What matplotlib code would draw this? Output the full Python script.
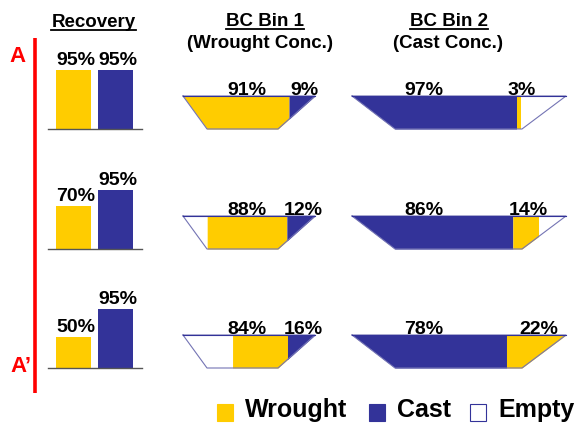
import numpy as np
import matplotlib
matplotlib.use('Agg')
import matplotlib.pyplot as plt
from matplotlib.patches import Rectangle

plt.rcParams['font.family'] = ['Liberation Sans', 'DejaVu Sans']

# Recovery (%) for each row, wrought / cast
recovery_wrought = [95, 70, 50]
recovery_cast = [95, 95, 95]

# BC Bin 1 (wrought concentrate): content split (%) and how full the bin is
bin1_wrought = [91, 88, 84]
bin1_cast = [9, 12, 16]
bin1_fill = [1.0, 0.88, 0.63]

# BC Bin 2 (cast concentrate)
bin2_cast = [97, 86, 78]
bin2_wrought = [3, 14, 22]
bin2_fill = [0.865, 0.95, 1.0]

legend_labels = ['Wrought', 'Cast', 'Empty']

YELLOW = '#FFCC00'
BLUE = '#333399'
EDGE = '#7474b4'

W, H = 575, 423
fig = plt.figure(figsize=(W / 100, H / 100), dpi=100)
ax = fig.add_axes([0, 0, 1, 1])
ax.set_xlim(0, W)
ax.set_ylim(H, 0)
ax.axis('off')

row_base = [129, 249, 368]
bin_h = 33
px_per_pct = 0.62

# bin shapes: top-left, top-right, bottom-left, bottom-right
bin1_shape = (183, 315, 207, 278)
bin2_shape = (352, 566, 395, 522)


def depth(x, shape):
    tl, tr, bl, br = shape
    return bin_h * np.clip(np.minimum((x - tl) / (bl - tl), (tr - x) / (tr - br)), 0, 1)


def draw_bin(shape, base, parts, colors):
    # parts = area fractions from left to right
    tl, tr, bl, br = shape
    top = base - bin_h
    xs = np.union1d(np.linspace(tl, tr, 3000), [bl, br])
    d = depth(xs, shape)
    cum = np.concatenate([[0], np.cumsum((d[1:] + d[:-1]) / 2 * np.diff(xs))])
    cum /= cum[-1]
    edges = np.interp(np.cumsum([0] + parts), cum, xs)
    for x0, x1, c in zip(edges[:-1], edges[1:], colors):
        if x1 - x0 < 0.2:
            continue
        seg = np.union1d(np.linspace(x0, x1, 300), [b for b in (bl, br) if x0 < b < x1])
        ax.fill_between(seg, top, top + depth(seg, shape), color=c, lw=0)
    ax.plot([tl, tr, br, bl, tl], [top, top, base, base, top], color=EDGE, lw=0.8)
    ax.plot([tl, tr], [top, top], color=BLUE, lw=0.8)
    return edges


lab = dict(fontsize=14, fontweight='bold', ha='center', va='baseline')

for i, base in enumerate(row_base):
    # recovery bars
    for xc, v, c in [(73.5, recovery_wrought[i], YELLOW), (115.5, recovery_cast[i], BLUE)]:
        ax.bar(xc, -v * px_per_pct, bottom=base, width=35, color=c, lw=0)
        ax.text(xc + 2, base - v * px_per_pct - 5, f'{v}%', **lab)
    ax.plot([48, 142], [base, base], color='#555555', lw=1)

    # bin 1 fills from the right: empty, wrought, cast
    f = bin1_fill[i]
    e = draw_bin(bin1_shape, base,
                 [1 - f, f * bin1_wrought[i] / 100, f * bin1_cast[i] / 100],
                 ['white', YELLOW, BLUE])
    top = base - bin_h
    ax.text(247, top - 1, f'{bin1_wrought[i]}%', **lab)
    ax.text((e[2] + e[3]) / 2 + 2, top - 1, f'{bin1_cast[i]}%', **lab)

    # bin 2 fills from the left: cast, wrought, empty
    f = bin2_fill[i]
    e = draw_bin(bin2_shape, base,
                 [f * bin2_cast[i] / 100, f * bin2_wrought[i] / 100, 1 - f],
                 [BLUE, YELLOW, 'white'])
    ax.text(424, top - 1, f'{bin2_cast[i]}%', **lab)
    ax.text((e[1] + e[2]) / 2 + 3, top - 1, f'{bin2_wrought[i]}%', **lab)

# A - A' line
ax.plot([35, 35], [38, 393], color='red', lw=2.6, solid_capstyle='butt')
ax.text(17, 56, 'A', color='red', fontsize=16, fontweight='bold', ha='center', va='center')
ax.text(21, 367, 'A\u2019', color='red', fontsize=16, fontweight='bold', ha='center', va='center')

# headers (underlined)
hdr = dict(fontsize=13.5, fontweight='bold', ha='center', va='baseline')
underlined = [ax.text(93.5, 27, 'Recovery', **hdr),
              ax.text(265, 26, 'BC Bin 1', **hdr),
              ax.text(449, 26, 'BC Bin 2', **hdr)]
ax.text(260, 48, '(Wrought Conc.)', **hdr)
ax.text(448, 48, '(Cast Conc.)', **hdr)

fig.canvas.draw()
r = fig.canvas.get_renderer()
for t in underlined:
    bb = t.get_window_extent(r)
    y = t.get_position()[1] + 3
    ax.plot([bb.x0, bb.x1], [y, y], color='black', lw=1.3)

# legend
leg = [(217, YELLOW, legend_labels[0]), (369, BLUE, legend_labels[1]), (470, 'white', legend_labels[2])]
for x, c, name in leg:
    ec = BLUE if c == 'white' else c
    ax.add_patch(Rectangle((x, 404), 16, 17, facecolor=c, edgecolor=ec, lw=0.8))
    ax.text(x + 28, 417, name, fontsize=18, fontweight='bold', va='baseline', ha='left')

fig.savefig('out.png', dpi=100)
